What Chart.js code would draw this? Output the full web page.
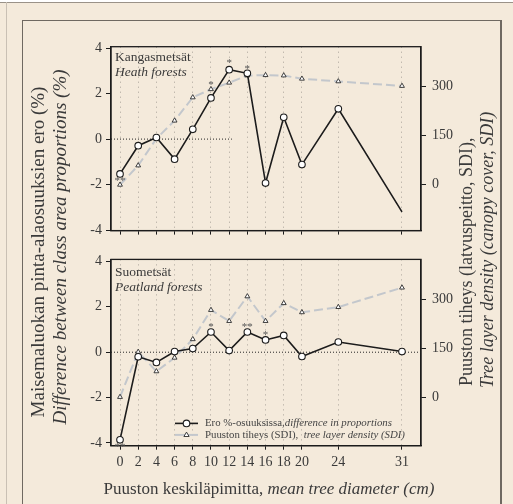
<!DOCTYPE html>
<html>
<head>
<meta charset="utf-8">
<script src="https://cdn.jsdelivr.net/npm/chart.js@4.4.1/dist/chart.umd.min.js"></script>
<style>
html, body { margin: 0; padding: 0; background: #fff; }
#wrap { position: relative; width: 513px; height: 504px; overflow: hidden; background: #fff; font-family: 'Liberation Serif', 'DejaVu Serif', serif; color: #3a3a3a; }
#page { position: absolute; left: 0; top: 2px; width: 513px; height: 502px; background: #f4eadb; border-top: 1px solid #9a9288; }
#lline { position: absolute; left: 6px; top: 2px; width: 1px; height: 502px; background: #c9c0b4; }
#frame { position: absolute; left: 22px; top: 20px; width: 477px; height: 500px; border: 1.5px solid #6f6961; border-right-width: 2px; }
canvas { position: absolute; left: 0; }
.t { position: absolute; white-space: nowrap; font-size: 17px; line-height: 20px; }
.yl { font-size: 19px; }
.yr { font-size: 18px; }
.it { font-style: italic; }
</style>
</head>
<body>
<div id="wrap">
  <div id="page"></div>
  <div id="lline"></div>
  <div id="frame"></div>
  <canvas id="heath" width="513" height="245" style="top:0px"></canvas>
  <canvas id="peat" width="513" height="259" style="top:245px"></canvas>

  <div class="t yl" style="left:38px; top:252px; transform: translate(-50%, -50%) rotate(-90deg);">Maisemaluokan pinta-alaosuuksien ero (%)</div>
  <div class="t yl it" style="left:60px; top:247px; transform: translate(-50%, -50%) rotate(-90deg);">Difference between class area proportions (%)</div>

  <div class="t yr" style="left:456px; top:386px; transform-origin: 0 0; transform: rotate(-90deg);">Puuston tiheys (latvuspeitto, SDI),</div>
  <div class="t yr it" style="left:477px; top:388px; transform-origin: 0 0; transform: rotate(-90deg);">Tree layer density (canopy cover, SDI)</div>

  <div class="t" style="left:269px; top:489px; transform: translate(-50%, -50%);">Puuston keskiläpimitta, <span class="it">mean tree diameter (cm)</span></div>
</div>

<script>
"use strict"

// diameter classes (cm)
const xValues = [0, 2, 4, 6, 8, 10, 12, 14, 16, 18, 20, 24, 31];

// heath forests
const heathDiff = [-1.53, -0.29, 0.07, -0.88, 0.43, 1.81, 3.05, 2.89, -1.93, 0.96, -1.12, 1.33, -3.2];
const heathSdi = [0, 59, 141, 196, 267, 292, 312, 334, 335, 334, 324, 316, 302];

// peatland forests
const peatDiff = [-3.86, -0.2, -0.45, 0.03, 0.16, 0.89, 0.07, 0.89, 0.54, 0.74, -0.19, 0.45, 0.03];
const peatSdi = [0, 139, 79, 121, 178, 268, 234, 310, 234, 289, 261, 277, 337];

// significance marks
const heathStarX = [0, 10, 12, 14];
const heathStarText = ['**', '*', '*', '*'];
const heathStarY = [-1.72, 2.5, 3.44, 3.2];
const peatStarX = [0, 10, 14, 16];
const peatStarText = ['**', '*', '**', '*'];
const peatStarY = [-4.05, 1.22, 1.21, 0.85];

// tick labels
const leftTicks = [-4, -2, 0, 2, 4];
const rightTicks = [0, 150, 300];

const xMin = -0.99;
const xMax = 33.09;
const SERIF = "'Liberation Serif', 'DejaVu Serif', serif";
const TEXT = '#3a3a3a';
const INK = '#1c1c1c';


// draws the box, stars, panel names and legend
const panelPlugin = {
    id: 'panelDeco',
    afterDatasetsDraw(chart) {
        const p = chart.options.plugins.panelDeco;
        const ctx = chart.ctx;
        const a = chart.chartArea;
        const sx = chart.scales.x;
        const sy = chart.scales.y;

        ctx.save();
        ctx.strokeStyle = INK;
        ctx.lineWidth = 1.3;
        ctx.strokeRect(a.left, a.top, a.right - a.left, a.bottom - a.top);

        ctx.fillStyle = '#555';
        ctx.font = '11px ' + SERIF;
        ctx.textAlign = 'center';
        ctx.textBaseline = 'alphabetic';
        for (let i = 0; i < p.starX.length; i++) {
            ctx.fillText(p.starText[i], sx.getPixelForValue(p.starX[i]), sy.getPixelForValue(p.starY[i]) + 5.5);
        }

        ctx.fillStyle = TEXT;
        ctx.textAlign = 'left';
        ctx.textBaseline = 'middle';
        ctx.font = '13.5px ' + SERIF;
        ctx.fillText(p.name, a.left + 4, a.top + p.nameOffset[0]);
        ctx.font = 'italic 13.5px ' + SERIF;
        ctx.fillText(p.nameEn, a.left + 4, a.top + p.nameOffset[1]);

        if (p.legend) {
            const x0 = 175, x1 = 198, xt = 205;
            const y1 = a.top + 164, y2 = a.top + 175.5;
            // row 1: difference
            ctx.strokeStyle = INK;
            ctx.lineWidth = 1.6;
            ctx.beginPath(); ctx.moveTo(x0, y1); ctx.lineTo(x1, y1); ctx.stroke();
            ctx.fillStyle = '#fff';
            ctx.lineWidth = 1.1;
            ctx.beginPath(); ctx.arc((x0 + x1) / 2, y1, 3.3, 0, Math.PI * 2); ctx.fill(); ctx.stroke();
            // row 2: SDI
            ctx.strokeStyle = '#c3c7cc';
            ctx.lineWidth = 2;
            ctx.beginPath(); ctx.moveTo(x0, y2); ctx.lineTo(x1, y2); ctx.stroke();
            const cx = (x0 + x1) / 2;
            ctx.strokeStyle = '#2a2a2a';
            ctx.fillStyle = '#fff';
            ctx.lineWidth = 0.9;
            ctx.beginPath();
            ctx.moveTo(cx, y2 - 2.8); ctx.lineTo(cx + 2.6, y2 + 1.6); ctx.lineTo(cx - 2.6, y2 + 1.6); ctx.closePath();
            ctx.fill(); ctx.stroke();

            ctx.fillStyle = '#444';
            ctx.font = '10.8px ' + SERIF;
            let t = 'Ero %-osuuksissa,';
            ctx.fillText(t, xt, y1);
            let w = ctx.measureText(t).width;
            ctx.font = 'italic 10.8px ' + SERIF;
            ctx.fillText('difference in proportions', xt + w, y1);

            ctx.font = '10.8px ' + SERIF;
            t = 'Puuston tiheys (SDI), ';
            ctx.fillText(t, xt, y2);
            w = ctx.measureText(t).width;
            ctx.font = 'italic 10.8px ' + SERIF;
            ctx.fillText(' tree layer density (SDI)', xt + w, y2);
        }
        ctx.restore();
    }
};


const makePanel = (id, cfg) => {
    const canvas = document.getElementById(id);
    return new Chart(canvas, {
        type: 'line',
        data: {
            datasets: [{
                label: 'diff',
                data: xValues.map((x, i) => ({ x: x, y: cfg.diff[i] })),
                yAxisID: 'y',
                borderColor: INK,
                borderWidth: 1.6,
                pointStyle: 'circle',
                pointRadius: cfg.diffRadius,
                pointBackgroundColor: '#fff',
                pointBorderColor: INK,
                pointBorderWidth: 1.1,
            },
            {
                label: 'sdi',
                data: xValues.map((x, i) => ({ x: x, y: cfg.sdi[i] })),
                yAxisID: 'y2',
                borderColor: '#c3c7cc',
                borderWidth: 2,
                borderDash: [9, 4],
                pointStyle: 'triangle',
                pointRadius: 2.8,
                pointBackgroundColor: '#fff',
                pointBorderColor: '#2a2a2a',
                pointBorderWidth: 0.9,
            },
            {
                label: 'zero',
                data: [{ x: xMin, y: 0 }, { x: cfg.zeroEnd, y: 0 }],
                yAxisID: 'y',
                borderColor: '#222',
                borderWidth: 1,
                borderDash: [1, 2],
                pointRadius: 0,
            }]
        },
        options: {
            responsive: false,
            animation: false,
            devicePixelRatio: 1,
            layout: { padding: { top: cfg.padTop, left: 0, right: 0, bottom: 0 } },
            plugins: {
                legend: { display: false },
                tooltip: { enabled: false },
                panelDeco: cfg.deco,
            },
            scales: {
                x: {
                    type: 'linear',
                    min: xMin,
                    max: xMax,
                    afterBuildTicks: s => { s.ticks = xValues.map(v => ({ value: v })); },
                    afterFit: s => { s.height = cfg.xHeight; },
                    ticks: { display: cfg.showX, autoSkip: false, maxRotation: 0, padding: 4, color: TEXT, font: { family: SERIF, size: 14 } },
                    grid: { color: '#aaa39a', lineWidth: 1, tickColor: INK, tickWidth: 1, tickLength: 4, tickBorderDash: [] },
                    border: { display: true, color: INK, width: 1.3, dash: [1, 4] },
                },
                y: {
                    position: 'left',
                    min: cfg.yMin,
                    max: cfg.yMax,
                    afterBuildTicks: s => { s.ticks = leftTicks.map(v => ({ value: v })); },
                    afterFit: s => { s.width = 111; },
                    ticks: { padding: 4, color: TEXT, font: { family: SERIF, size: 14 } },
                    grid: { drawOnChartArea: false, tickColor: INK, tickWidth: 1, tickLength: 5 },
                    border: { display: true, color: INK, width: 1.3 },
                },
                y2: {
                    position: 'right',
                    min: cfg.rMin,
                    max: cfg.rMax,
                    afterBuildTicks: s => { s.ticks = rightTicks.map(v => ({ value: v })); },
                    afterFit: s => { s.width = 92; },
                    ticks: { padding: 6, color: TEXT, font: { family: SERIF, size: 14 } },
                    grid: { drawOnChartArea: false, tickColor: INK, tickWidth: 1, tickLength: 5 },
                    border: { display: true, color: INK, width: 1.3 },
                }
            }
        },
        plugins: [panelPlugin]
    });
};


document.addEventListener("DOMContentLoaded", () => {
    makePanel('heath', {
        diff: heathDiff,
        sdi: heathSdi,
        diffRadius: xValues.map((x, i) => i === xValues.length - 1 ? 0 : 3.3),
        zeroEnd: 12.3,
        padTop: 46.7,
        xHeight: 12,
        showX: false,
        yMin: -4.02, yMax: 4.06,
        rMin: -140, rMax: 422,
        deco: {
            starX: heathStarX, starText: heathStarText, starY: heathStarY,
            name: 'Kangasmetsät', nameEn: 'Heath forests', nameOffset: [10.5, 26],
            legend: false
        }
    });

    makePanel('peat', {
        diff: peatDiff,
        sdi: peatSdi,
        diffRadius: 3.3,
        zeroEnd: xMax,
        padTop: 10,
        xHeight: 58.3,
        showX: true,
        yMin: -4.12, yMax: 4.09,
        rMin: -150, rMax: 424,
        deco: {
            starX: peatStarX, starText: peatStarText, starY: peatStarY,
            name: 'Suometsät', nameEn: 'Peatland forests', nameOffset: [13, 28],
            legend: true
        }
    });
});
</script>
</body>
</html>
